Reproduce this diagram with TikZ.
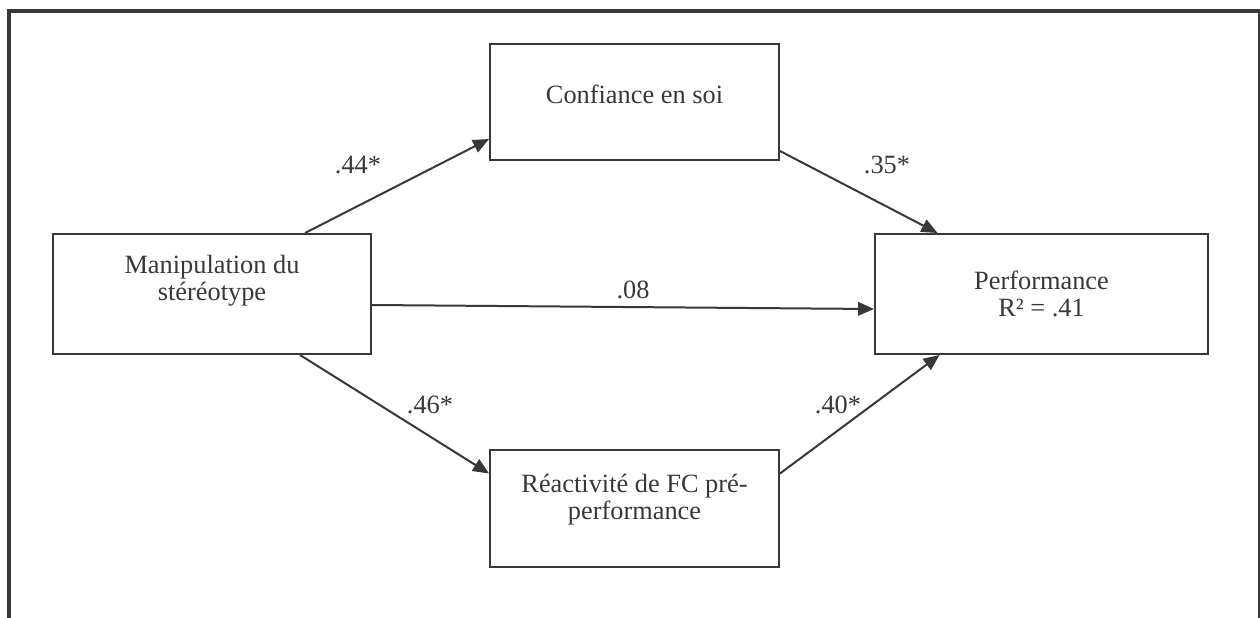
\documentclass[tikz,border=0pt]{standalone}
\usepackage{fontspec}
\setmainfont{Liberation Serif}
\usetikzlibrary{arrows.meta,calc}
\definecolor{inkgray}{HTML}{383839}
\tikzset{
  box/.style={draw=inkgray,line width=0.04cm,rectangle,align=center,text=inkgray,
              font=\fontsize{15}{15.5}\selectfont},
  path/.style={draw=inkgray,line width=0.04cm,-{Triangle[length=0.32cm,width=0.27cm]}},
  coef/.style={text=inkgray,font=\fontsize{15}{15.5}\selectfont}
}
\begin{document}
\begin{tikzpicture}[x=0.02cm,y=-0.02cm]
  \useasboundingbox (0,0) rectangle (1260,618);
  % outer frame
  \draw[inkgray,line width=0.08cm] (9,618) -- (9,11) -- (1259.5,11) -- (1259.5,618);

  \node[box,minimum width=6.36cm,minimum height=2.4cm,text depth=18pt] at (212,294) (manip) {Manipulation du\\st\'er\'eotype};
  \node[box,minimum width=5.78cm,minimum height=2.34cm,text depth=9pt] at (634.5,102) (conf) {Confiance en soi};
  \node[box,minimum width=6.66cm,minimum height=2.4cm] at (1041.5,294) (perf) {Performance\\R² = .41};
  \node[box,minimum width=5.78cm,minimum height=2.34cm,text depth=13.5pt] at (634.5,508.5) (reac) {R\'eactivit\'e de FC pr\'e-\\performance};

  \draw[path] ($(manip.north)+(93,0)$) -- ($(conf.west)+(0,37)$);
  \draw[path] ($(conf.east)+(0,49)$) -- ($(perf.north)+(-104,0)$);
  \draw[path] ($(manip.south)+(88,0)$) -- ($(reac.west)+(0,-35)$);
  \draw[path] ($(reac.east)+(0,-35)$) -- ($(perf.south)+(-102,0)$);
  \draw[path] ($(manip.east)+(0,11)$) -- ($(perf.west)+(0,15)$);

  \node[coef] at (358,165) (c1) {.44*};
  \node[coef] at (887,165) (c2) {.35*};
  \node[coef] at (430,405) (c3) {.46*};
  \node[coef] at (838,405) (c4) {.40*};
  \node[coef] at (633,290) (c5) {.08};
\end{tikzpicture}
\end{document}
